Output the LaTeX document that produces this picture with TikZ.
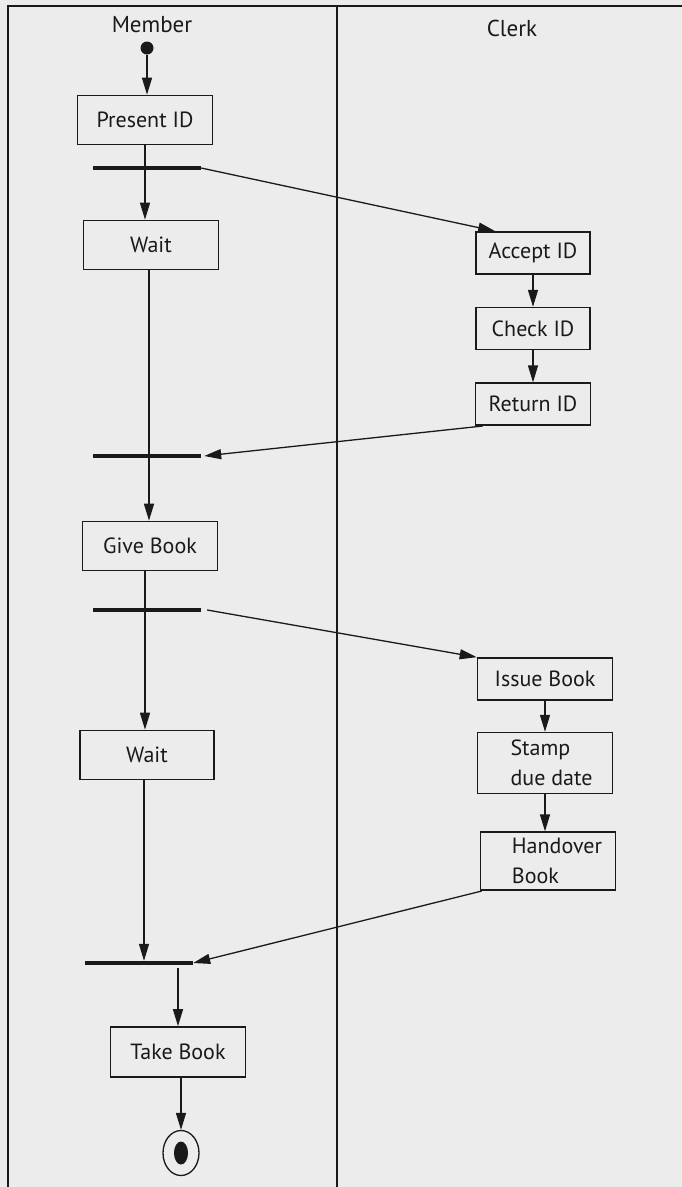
\documentclass[tikz,border=0pt]{standalone}
\usepackage{fontspec}
\setmainfont{PT Sans}
\usepackage{tikz}
\usetikzlibrary{shapes.geometric, arrows.meta, positioning, calc}
\definecolor{lanegray}{RGB}{236, 236, 236}
\definecolor{inkdark}{RGB}{26, 26, 26}
\tikzset{
    activity/.style={rectangle, draw=inkdark, fill=lanegray, line width=1.6pt, minimum width=135pt, minimum height=49pt, inner sep=2pt, text centered, text=inkdark, font=\fontsize{22}{30}\selectfont},
    syncbar/.style={rectangle, fill=inkdark, minimum width=108pt, minimum height=4pt, inner sep=0pt},
    startdot/.style={circle, fill=inkdark, minimum size=13pt, inner sep=0pt},
    enddot/.style={ellipse, draw=inkdark, line width=1.3pt, minimum width=36pt, minimum height=45pt, inner sep=0pt, path picture={\fill[inkdark] (path picture bounding box.center) ellipse [x radius=7pt, y radius=11.5pt];}},
    lanelabel/.style={text=inkdark, font=\fontsize{23}{28}\selectfont},
    lane/.style={draw=inkdark, line width=1.6pt},
    arrow/.style={draw=inkdark, line width=1.3pt, -{Triangle[length=17pt, width=10pt]}}
}
\begin{document}
\begin{tikzpicture}[x=1pt, y=-1pt]
    \useasboundingbox (0,0) rectangle (682,1187);
    \fill[lanegray] (0,0) rectangle (682,1187);
    % swimlanes
    \draw[lane] (682,6) -- (8,6) -- (8,1187);
    \draw[lane] (337,6) -- (337,1187);
    \node (member) [lanelabel] at (152,25) {Member};
    \node (clerk) [lanelabel] at (512,28) {Clerk};

    % member lane
    \node (start) [startdot] at (147,48) {};
    \node (present) [activity] at (145,120) {Present ID};
    \node (fork1) [syncbar] at (147,168) {};
    \node (wait1) [activity] at (151,245) {Wait};
    \node (join1) [syncbar] at (147,456) {};
    \node (give) [activity] at (150,546) {Give Book};
    \node (fork2) [syncbar] at (147,610) {};
    \node (wait2) [activity, minimum width=134pt] at (147,755) {Wait};
    \node (join2) [syncbar] at (139,963) {};
    \node (take) [activity, minimum height=50pt] at (178,1052) {Take Book};
    \node (end) [enddot] at (181,1153) {};

    % clerk lane
    \node (accept) [activity, minimum width=114pt, minimum height=42pt] at (533,253) {Accept ID};
    \node (check) [activity, minimum width=114pt, minimum height=42pt, below=32pt of accept] {Check ID};
    \node (return) [activity, minimum width=115pt, minimum height=42pt, below=32pt of check] {Return ID};
    \node (issue) [activity, minimum height=42pt] at (545,679) {Issue Book};
    \node (stamp) [activity, minimum height=61pt, align=left, below=31pt of issue] {\hspace*{13pt}Stamp\\\hspace*{13pt}due date};
    \node (handover) [activity, minimum height=58pt, align=left, below=37pt of stamp, xshift=3pt] {\hspace*{18pt}Handover\\\hspace*{18pt}Book};

    \draw[arrow] (start) -- (start |- present.north);
    \draw[arrow] (present.south) -- (present.south |- wait1.north);
    \draw[arrow] (fork1.east) -- ([xshift=20pt]accept.north west);
    \draw[arrow] (accept) -- (check);
    \draw[arrow] (check) -- (return);
    \draw[arrow] ([xshift=8pt]return.south west) -- ([xshift=3pt]join1.east);
    \draw[arrow] ([xshift=-2pt]wait1.south) -- ([xshift=-2pt]wait1.south |- give.north);
    \draw[arrow] ([xshift=-5pt]give.south) -- ([xshift=-5pt]give.south |- wait2.north);
    \draw[arrow] ([xshift=6pt]fork2.east) -- (issue.north west);
    \draw[arrow] (issue) -- (stamp);
    \draw[arrow] (stamp.south) -- (stamp.south |- handover.north);
    \draw[arrow] ([xshift=2pt]handover.south west) -- (join2.east);
    \draw[arrow] ([xshift=-3pt]wait2.south) -- ([xshift=-3pt]wait2.south |- join2.north);
    \draw[arrow] ([yshift=-3pt]join2.south -| take.north) -- (take.north);
    \draw[arrow] (take.south -| end) -- (end);
\end{tikzpicture}
\end{document}
